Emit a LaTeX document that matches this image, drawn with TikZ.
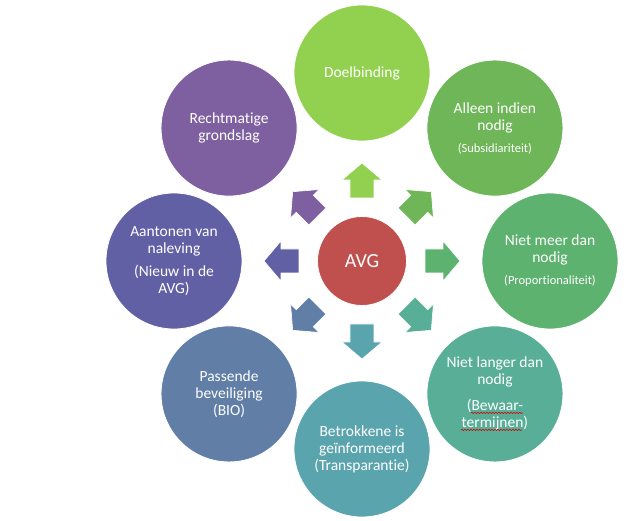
\documentclass[tikz,border=0pt]{standalone}
\usepackage{fontspec}
\setmainfont{Carlito}[Ligatures=NoCommon]
\usetikzlibrary{decorations.pathmorphing}

\definecolor{avgrood}{RGB}{192,80,77}
\definecolor{kDoel}{RGB}{146,208,80}
\definecolor{kAlleen}{RGB}{110,182,88}
\definecolor{kMeer}{RGB}{92,178,110}
\definecolor{kLanger}{RGB}{88,174,150}
\definecolor{kBetrokken}{RGB}{90,164,174}
\definecolor{kPassend}{RGB}{96,126,166}
\definecolor{kAantonen}{RGB}{98,96,164}
\definecolor{kRecht}{RGB}{126,96,160}

\newcommand{\klein}{\fontsize{12.5}{15}\selectfont}

\tikzset{
  bol/.style={circle, draw=white, line width=0.8pt, minimum size=136pt, inner sep=0pt,
    text=white, align=center, font=\fontsize{15.5}{17}\selectfont},
  pijl/.style={draw=white, line width=0.6pt},
  kronkel/.style={red!85!black, line width=0.5pt, decorate,
    decoration={snake, amplitude=0.7pt, segment length=3pt}},
}

\begin{document}
\begin{tikzpicture}[x=1pt,y=1pt]
\useasboundingbox (-362,-260) rectangle (278,261);

% AVG in het midden
\node[bol, fill=avgrood, minimum size=89pt, font=\fontsize{20}{24}\selectfont] (avg) at (0,0) {AVG};

% de acht beginselen rondom
\node[bol, fill=kDoel] (doel) at (90:188) {Doelbinding};
\node[bol, fill=kAlleen] (alleen) at (45:188) {Alleen indien\\nodig\\[5pt]{\klein(Subsidiariteit)}};
\node[bol, fill=kMeer] (meer) at (0:188) {Niet meer dan\\nodig\\[5pt]{\klein(Proportionaliteit)}};
\node[bol, fill=kLanger] (langer) at (-45:188) {Niet langer dan\\nodig\\[9pt](Bewaar-\\termijnen)};
\node[bol, fill=kBetrokken] (betrokken) at (-90:188) {Betrokkene is\\geïnformeerd\\(Transparantie)};
\node[bol, fill=kPassend] (passend) at (-135:188) {Passende\\beveiliging\\(BIO)};
\node[bol, fill=kAantonen] (aantonen) at (180:188) {Aantonen van\\naleving\\[6pt](Nieuw in de\\AVG)};
\node[bol, fill=kRecht] (recht) at (135:188) {Rechtmatige\\grondslag};

% spellingkronkels onder Bewaar-termijnen
\draw[kronkel] ([xshift=-24pt,yshift=-19pt]langer.center) -- ([xshift=28pt,yshift=-19pt]langer.center);
\draw[kronkel] ([xshift=-34pt,yshift=-36pt]langer.center) -- ([xshift=27pt,yshift=-36pt]langer.center);

% blokpijlen naar buiten
\foreach \hoek/\kleur in {90/kDoel, 45/kAlleen, 0/kMeer, -45/kLanger,
    -90/kBetrokken, -135/kPassend, 180/kAantonen, 135/kRecht}
  \fill[pijl, fill=\kleur, rotate=\hoek]
    (63,-12) -- (81,-12) -- (81,-20) -- (98,0) -- (81,20) -- (81,12) -- (63,12) -- cycle;
\end{tikzpicture}
\end{document}
